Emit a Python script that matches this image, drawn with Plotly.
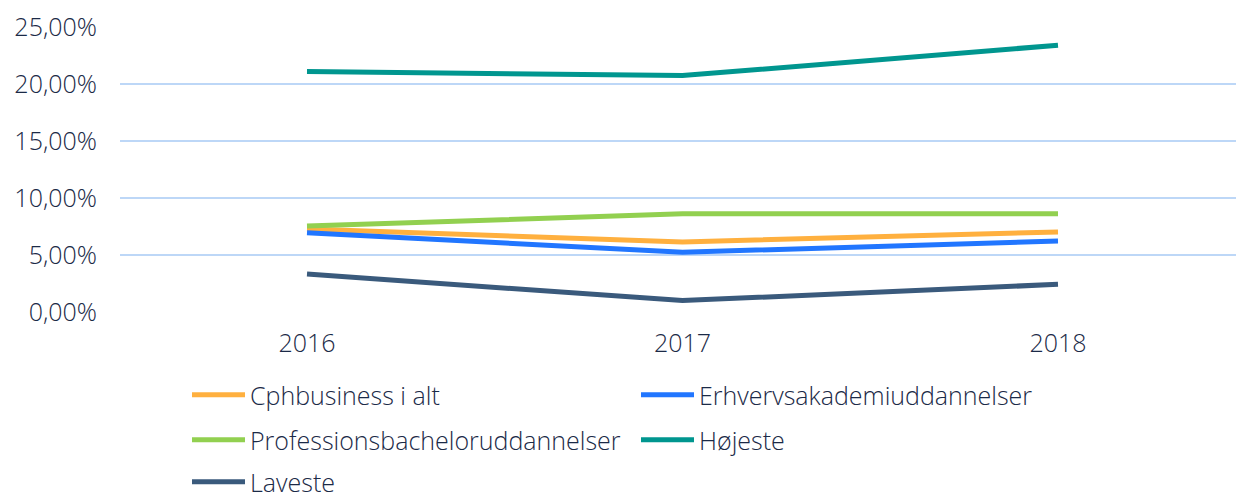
import plotly.graph_objects as go

years = [2016, 2017, 2018]
cph = [7.28, 6.15, 7.02]
erhverv = [6.96, 5.24, 6.22]
prof = [7.54, 8.62, 8.62]
hojeste = [21.1, 20.74, 23.4]
laveste = [3.33, 1.0, 2.43]

names = ["Cphbusiness i alt", "Erhvervsakademiuddannelser",
         "Professionsbacheloruddannelser", "Højeste", "Laveste"]
colors = ["#FFB03F", "#2176FF", "#92D050", "#00968F", "#3A5A7C"]
series = [cph, erhverv, prof, hojeste, laveste]
legends = ["legend", "legend", "legend2", "legend2", "legend3"]

FONT = "Open Sans"
TXT = "#1B2A47"
FS = 25

fig = go.Figure()
for n, c, s, lg in zip(names, colors, series, legends):
    fig.add_trace(go.Scatter(x=years, y=s, name=n, mode="lines",
                             line=dict(color=c, width=5), legend=lg))

W, H = 1236, 493
L, R, T, B = 120, 0, 27, 181
pw = W - L - R
ph = H - T - B

def lx(px):
    return (px - L) / pw

def ly(py):
    return (H - B - py) / ph

x_left = 2015.502
x_right = x_left + pw / 375.5

leg_common = dict(orientation="h", xanchor="left", yanchor="middle",
                  entrywidth=381, entrywidthmode="pixels", itemwidth=53,
                  font=dict(family=FONT, size=FS, color=TXT, weight=300),
                  bgcolor="rgba(0,0,0,0)", borderwidth=0)

fig.update_layout(
    width=W, height=H,
    margin=dict(l=L, r=R, t=T, b=B, autoexpand=False),
    plot_bgcolor="white", paper_bgcolor="white",
    font=dict(family=FONT, size=FS, color=TXT, weight=300),
    showlegend=True,
    legend=dict(x=lx(187), y=ly(395), **leg_common),
    legend2=dict(x=lx(187), y=ly(440), **leg_common),
    legend3=dict(x=lx(187), y=ly(482), **leg_common),
    xaxis=dict(range=[x_left, x_right], tickvals=years,
               ticktext=[str(y) for y in years], showgrid=False,
               zeroline=False, showline=False, ticks="", automargin=False,
               ticklabelstandoff=14,
               tickfont=dict(family=FONT, size=FS, color=TXT, weight=300)),
    yaxis=dict(range=[0, 25], tickvals=[0, 5, 10, 15, 20, 25],
               ticktext=["0,00%", "5,00%", "10,00%", "15,00%", "20,00%", "25,00%"],
               showgrid=True, gridcolor="#BDD7F7", gridwidth=2,
               zeroline=False, showline=False, ticks="", automargin=False,
               ticklabelstandoff=22,
               tickfont=dict(family=FONT, size=FS, color=TXT, weight=300)),
)

fig.write_html("out.html", config={"displayModeBar": False},
               post_script="document.body.style.margin='0';document.body.style.overflow='hidden';")
